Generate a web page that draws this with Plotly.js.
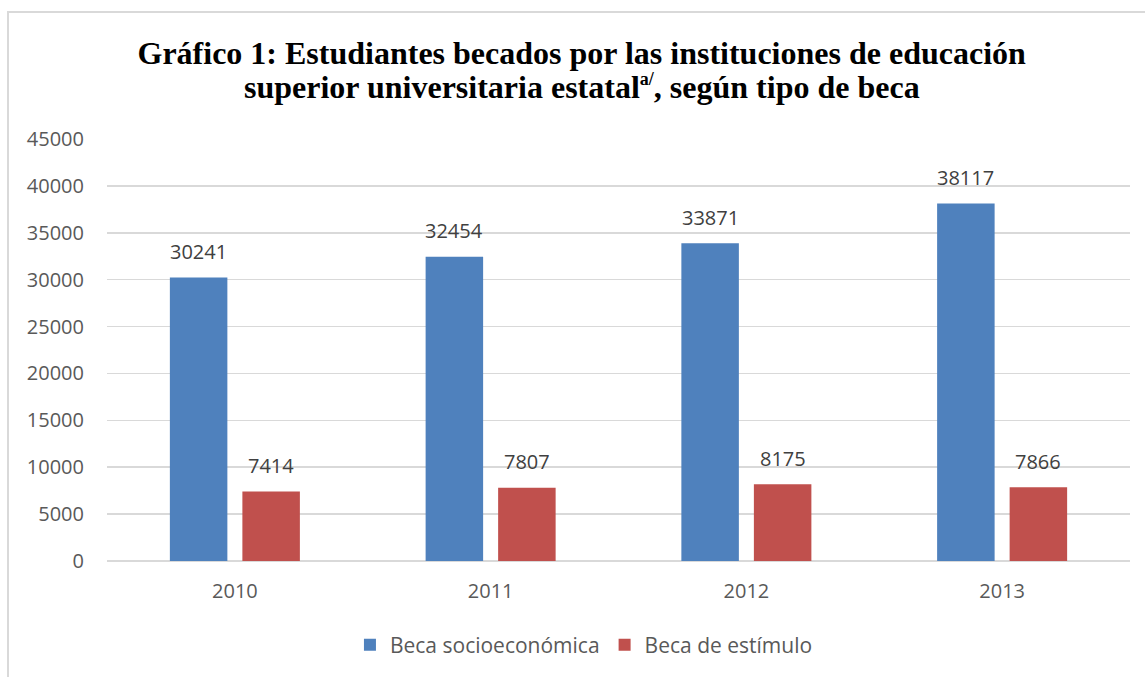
<!DOCTYPE html>
<html>
<head>
<meta charset="utf-8">
<script src="https://cdn.plot.ly/plotly-3.0.1.min.js"></script>
<style>
  html, body { margin: 0; padding: 0; background: #ffffff; overflow: hidden; }
  #chart { position: absolute; left: 0; top: 0; width: 1145px; height: 677px; }
  #frame { position: absolute; left: 7px; top: 11px; width: 1160px; height: 700px;
           border: 2px solid #d9d9d9; pointer-events: none; }
</style>
</head>
<body>
<div id="chart"></div>
<div id="frame"></div>
<script>
const years = ['2010', '2011', '2012', '2013'];
const socioeconomica = [30241, 32454, 33871, 38117];
const estimulo = [7414, 7807, 8175, 7866];
const seriesNames = ['Beca socioeconómica', 'Beca de estímulo'];
const seriesColors = ['#4f81bd', '#c0504d'];
const yTicks = [0, 5000, 10000, 15000, 20000, 25000, 30000, 35000, 40000, 45000];
const titleLine1 = 'Gráfico 1: Estudiantes becados por las instituciones de educación';
const titleLine2 = 'superior universitaria estatal<sup><span style="font-size:18px">a/</span></sup>, según tipo de beca';

const tickFont = { family: 'Open Sans, Liberation Sans, sans-serif', size: 20, color: '#595959' };
const legendFont = { family: 'Open Sans, Liberation Sans, sans-serif', size: 21, color: '#595959' };
const labelFont = { family: 'Open Sans, Liberation Sans, sans-serif', size: 20, color: '#404040' };
const titleFont = { family: 'Liberation Serif, Times New Roman, serif', size: 32, color: '#000000' };

const bargap = 0.433;
const half = (1 - bargap) / 4;

const traces = [
  { type: 'bar', name: seriesNames[0], x: years, y: socioeconomica,
    marker: { color: seriesColors[0] }, hoverinfo: 'x+y' },
  { type: 'bar', name: seriesNames[1], x: years, y: estimulo,
    marker: { color: seriesColors[1] }, hoverinfo: 'x+y' }
];

const annotations = [];
years.forEach((yr, i) => {
  annotations.push({ x: i - half, y: socioeconomica[i], xref: 'x', yref: 'y',
    text: String(socioeconomica[i]), showarrow: false, yanchor: 'middle', yshift: 26, font: labelFont });
  annotations.push({ x: i + half, y: estimulo[i], xref: 'x', yref: 'y',
    text: String(estimulo[i]), showarrow: false, yanchor: 'middle', yshift: 26, font: labelFont });
});
annotations.push({ x: 0.4643, y: 1.1227, xref: 'paper', yref: 'paper', xanchor: 'center', yanchor: 'middle',
  text: '<b>' + titleLine2 + '</b>', showarrow: false, font: titleFont });

const layout = {
  width: 1145, height: 677,
  paper_bgcolor: 'rgba(0,0,0,0)', plot_bgcolor: 'rgba(0,0,0,0)',
  margin: { l: 107, r: 15, t: 139, b: 116 },
  title: {
    text: '<b>' + titleLine1 + '</b>',
    font: titleFont,
    x: 0.508, xref: 'container', xanchor: 'center',
    y: 0.9384, yref: 'container', yanchor: 'top'
  },
  barmode: 'group', bargap: bargap, bargroupgap: 0.207,
  xaxis: {
    type: 'category', tickfont: tickFont, showgrid: false, showline: false, zeroline: false,
    ticks: 'outside', ticklen: 12, tickcolor: 'rgba(0,0,0,0)'
  },
  yaxis: {
    range: [0, 45000], tickvals: yTicks, ticktext: yTicks.map(String), tickfont: tickFont,
    showgrid: true, gridcolor: '#d9d9d9', gridwidth: 1.5,
    zeroline: true, zerolinecolor: '#d9d9d9', zerolinewidth: 1.5, showline: false,
    ticks: 'outside', ticklen: 18, tickcolor: 'rgba(0,0,0,0)'
  },
  showlegend: true,
  legend: {
    orientation: 'h', xref: 'container', yref: 'container',
    x: 0.510, xanchor: 'center', y: 0.047, yanchor: 'middle',
    font: legendFont, itemclick: false
  },
  annotations: annotations
};

Plotly.newPlot('chart', traces, layout, { displayModeBar: false, staticPlot: true });
</script>
</body>
</html>
